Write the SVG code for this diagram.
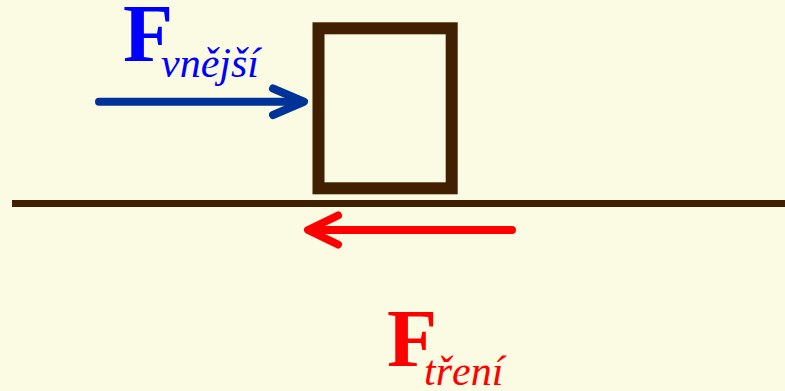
<svg xmlns="http://www.w3.org/2000/svg" width="785" height="391" viewBox="0 0 785 391">
<style>
.F{font-family:"Liberation Serif",serif;font-weight:bold;font-size:82px}
.sub{font-family:"Liberation Serif",serif;font-style:italic;font-size:42px}
.arr{fill:none;stroke-width:8;stroke-linecap:round;stroke-linejoin:round}
</style>
<rect x="0" y="0" width="785" height="391" fill="#fbfae2"/>
<g id="ground"><line x1="12" y1="203.5" x2="785" y2="203.5" stroke="#402000" stroke-width="7"/></g>
<g id="box"><rect x="318.5" y="28.3" width="133.2" height="160" fill="none" stroke="#402000" stroke-width="12"/></g>
<g id="connectors">
<g id="f-ext-arrow" stroke="#003399" class="arr"><line x1="99" y1="101.7" x2="302" y2="101.7"/><polyline points="273,88.5 304,101.7 273,115"/></g>
<g id="f-fric-arrow" stroke="#ff0000" class="arr"><line x1="512" y1="230" x2="310" y2="230"/><polyline points="338,215.5 308,230 338,244.5"/></g>
</g>
<g id="label-ext" fill="#0000ff"><text class="F" x="123" y="61">F</text><text class="sub" x="161" y="77">vnější</text></g>
<g id="label-fric" fill="#ff0000"><text class="F" x="387" y="366">F</text><text class="sub" x="424" y="385">tření</text></g>
</svg>
